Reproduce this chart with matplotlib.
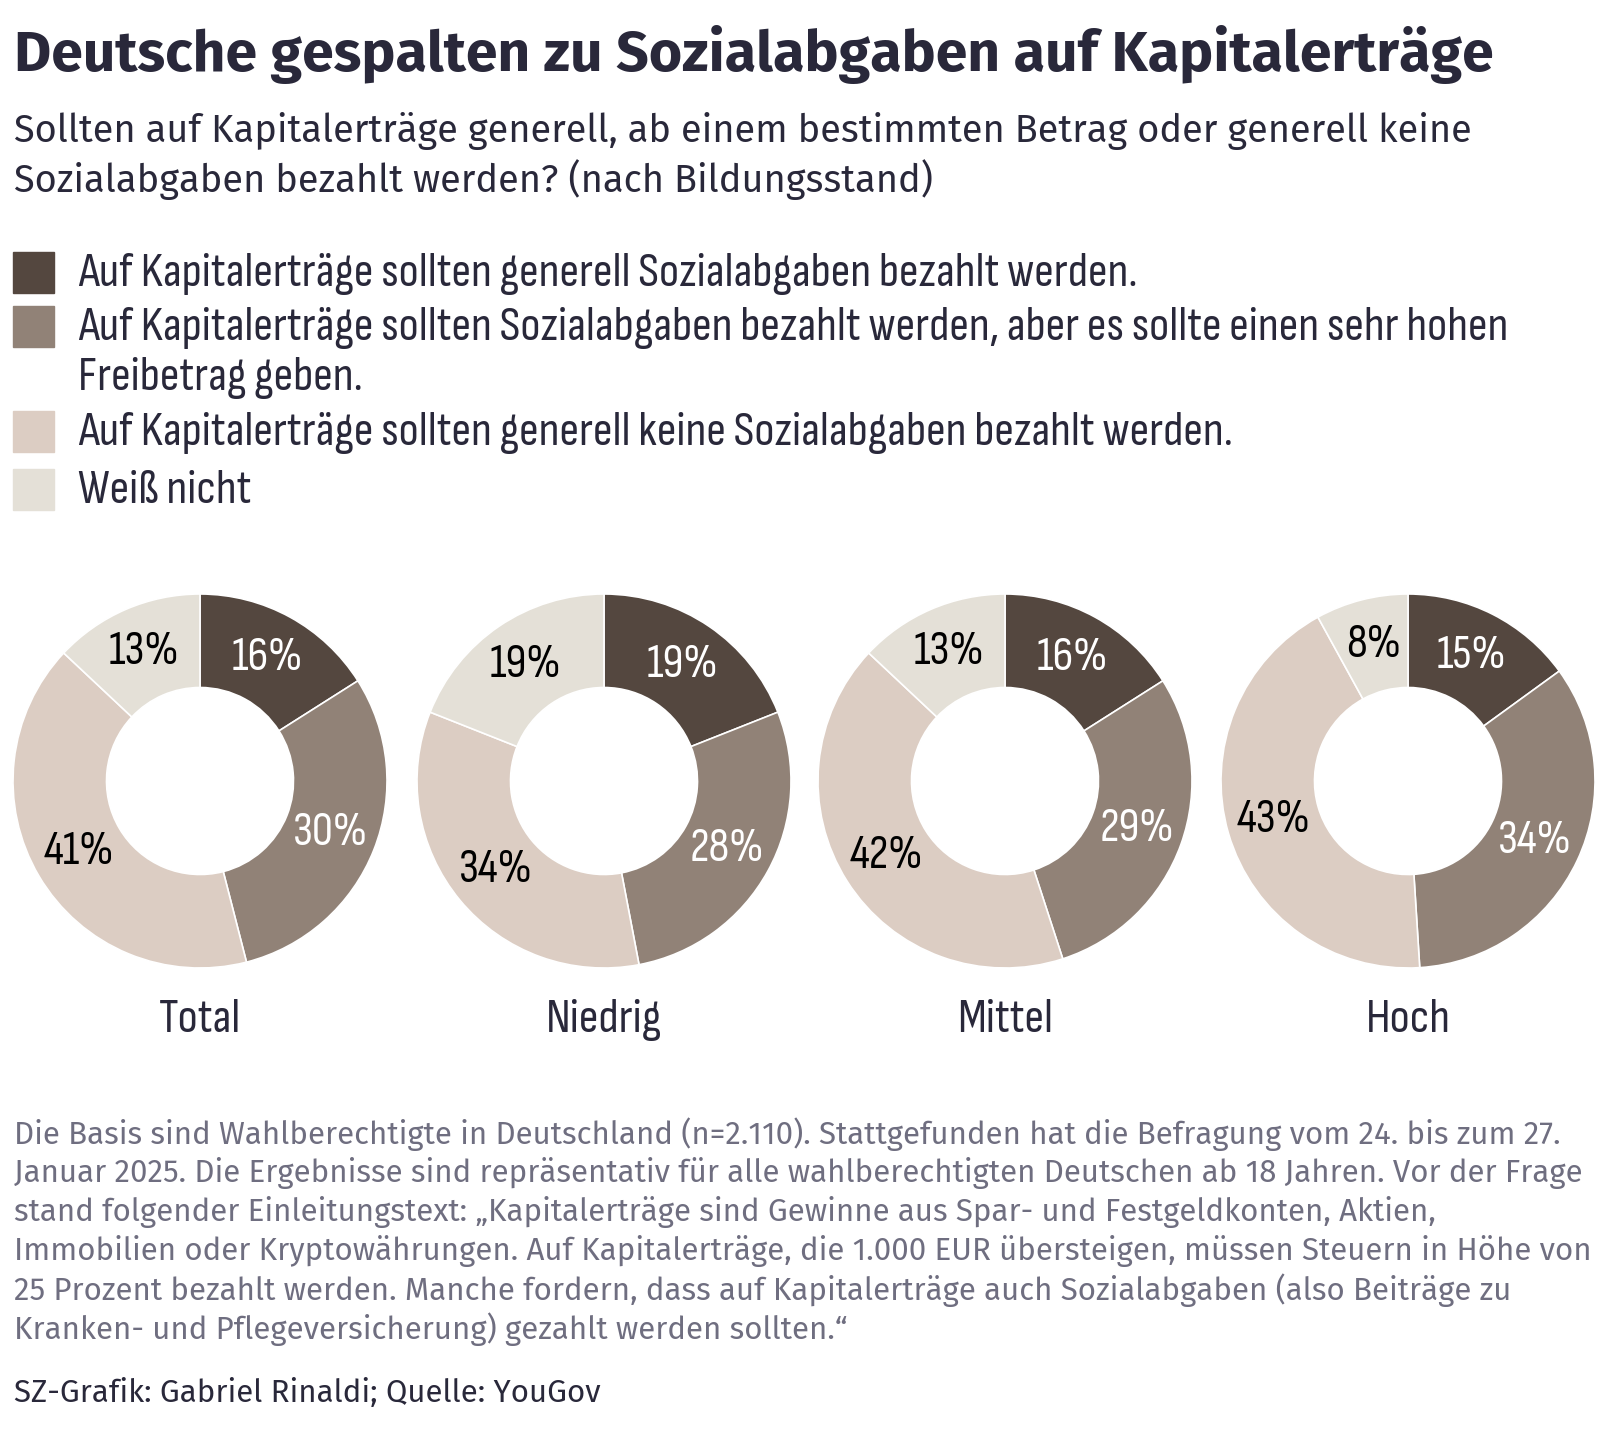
import matplotlib
matplotlib.use("Agg")
import matplotlib.pyplot as plt
from matplotlib.patches import Rectangle

W, H = 1608, 1429

groups = ["Total", "Niedrig", "Mittel", "Hoch"]
generell = [16, 19, 16, 15]
freibetrag = [30, 28, 29, 34]
keine = [41, 34, 42, 43]
weiss_nicht = [13, 19, 13, 8]

legend_labels = [
    "Auf Kapitalerträge sollten generell Sozialabgaben bezahlt werden.",
    "Auf Kapitalerträge sollten Sozialabgaben bezahlt werden, aber es sollte einen sehr hohen\nFreibetrag geben.",
    "Auf Kapitalerträge sollten generell keine Sozialabgaben bezahlt werden.",
    "Weiß nicht",
]
colors = ["#54473f", "#918277", "#dccdc3", "#e4e0d7"]
label_colors = ["white", "white", "black", "black"]

title = "Deutsche gespalten zu Sozialabgaben auf Kapitalerträge"
subtitle = ("Sollten auf Kapitalerträge generell, ab einem bestimmten Betrag oder generell keine\n"
            "Sozialabgaben bezahlt werden? (nach Bildungsstand)")
footer = [
    "Die Basis sind Wahlberechtigte in Deutschland (n=2.110). Stattgefunden hat die Befragung vom 24. bis zum 27.",
    "Januar 2025. Die Ergebnisse sind repräsentativ für alle wahlberechtigten Deutschen ab 18 Jahren. Vor der Frage",
    "stand folgender Einleitungstext: „Kapitalerträge sind Gewinne aus Spar- und Festgeldkonten, Aktien,",
    "Immobilien oder Kryptowährungen. Auf Kapitalerträge, die 1.000 EUR übersteigen, müssen Steuern in Höhe von",
    "25 Prozent bezahlt werden. Manche fordern, dass auf Kapitalerträge auch Sozialabgaben (also Beiträge zu",
    "Kranken- und Pflegeversicherung) gezahlt werden sollten.“",
]
source = "SZ-Grafik: Gabriel Rinaldi; Quelle: YouGov"

dark = "#29283a"
grey = "#6f6e80"
narrow = ["Sofia Sans Condensed", "Archivo Narrow", "DejaVu Sans"]
sans = ["Fira Sans", "Open Sans", "DejaVu Sans"]

fig = plt.figure(figsize=(W / 100, H / 100), dpi=100)


def fx(px):
    return px / W


def fy(py):
    return 1 - py / H


fig.text(fx(14), fy(54), title, fontsize=41.2, fontweight="bold", family=sans,
         color=dark, va="center")
sub_lines = subtitle.split("\n")
for k, line in enumerate(sub_lines):
    fig.text(fx(14), fy(131 + 49 * k), line, fontsize=27.3, family=sans,
             color=dark, va="center")

# legend: one row per text line, swatch next to the first line of each entry
leg_y = [272, 326, 431, 489]
for y, lab, c in zip(leg_y, legend_labels, colors):
    fig.patches.append(Rectangle((fx(13), fy(y + 21)), fx(41), 41 / H,
                                 transform=fig.transFigure, color=c))
    for k, line in enumerate(lab.split("\n")):
        fig.text(fx(78), fy(y + 2 + 50 * k), line, fontsize=35, family=narrow,
                 color=dark, va="center")

centers = [200, 604, 1005, 1408]
cy = 781
R = 187
for i, (cx, g) in enumerate(zip(centers, groups)):
    ax = fig.add_axes([fx(cx - R), fy(cy + R), 2 * R / W, 2 * R / H])
    vals = [generell[i], freibetrag[i], keine[i], weiss_nicht[i]]
    wedges, texts, autotexts = ax.pie(
        vals, colors=colors, startangle=90, counterclock=False, radius=1,
        wedgeprops=dict(width=0.5, edgecolor="white", linewidth=1.2),
        autopct=lambda p: f"{p:.0f}%", pctdistance=0.75,
        textprops=dict(fontsize=34, family=narrow))
    for t, lc in zip(autotexts, label_colors):
        t.set_color(lc)
    ax.set_aspect("equal")
    ax.set_xlim(-1, 1)
    ax.set_ylim(-1, 1)
    fig.text(fx(cx), fy(1020), g, fontsize=35, family=narrow, color=dark,
             ha="center", va="center")

for k, line in enumerate(footer):
    fig.text(fx(14), fy(1134 + 39 * k), line, fontsize=22.5, family=sans,
             color=grey, va="center")
fig.text(fx(14), fy(1393), source, fontsize=22.5, family=sans, color=dark,
         va="center")

fig.savefig("out.png", dpi=100)
